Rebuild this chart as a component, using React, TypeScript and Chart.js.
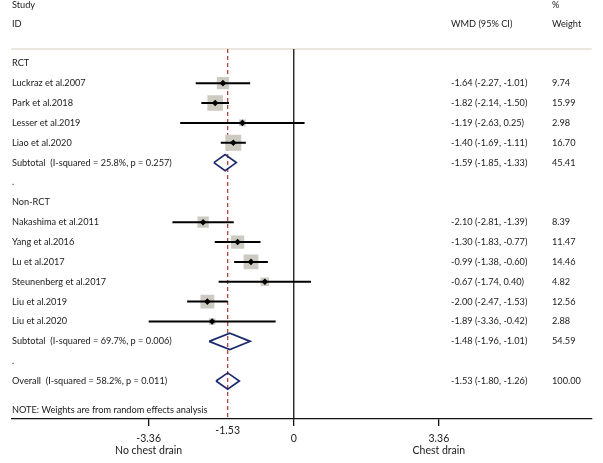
import React, { useEffect, useRef } from 'react';
import { Chart, registerables } from 'chart.js';

Chart.register(...registerables);

// ---------- data ----------
const rctStudies = ['Luckraz et al.2007', 'Park et al.2018', 'Lesser et al.2019', 'Liao et al.2020'];
const rctEst = [-1.64, -1.82, -1.19, -1.40];
const rctLow = [-2.27, -2.14, -2.63, -1.69];
const rctHigh = [-1.01, -1.50, 0.25, -1.11];
const rctWeight = [9.74, 15.99, 2.98, 16.70];
const rctSubtotal = { est: -1.59, lo: -1.85, hi: -1.33, w: 45.41, i2: 25.8, p: 0.257 };

const nonRctStudies = ['Nakashima et al.2011', 'Yang et al.2016', 'Lu et al.2017', 'Steunenberg et al.2017', 'Liu et al.2019', 'Liu et al.2020'];
const nonRctEst = [-2.10, -1.30, -0.99, -0.67, -2.00, -1.89];
const nonRctLow = [-2.81, -1.83, -1.38, -1.74, -2.47, -3.36];
const nonRctHigh = [-1.39, -0.77, -0.60, 0.40, -1.53, -0.42];
const nonRctWeight = [8.39, 11.47, 14.46, 4.82, 12.56, 2.88];
const nonRctSubtotal = { est: -1.48, lo: -1.96, hi: -1.01, w: 54.59, i2: 69.7, p: 0.006 };

const overall = { est: -1.53, lo: -1.80, hi: -1.26, w: 100.0, i2: 58.2, p: 0.011 };

const groupNames = ['RCT', 'Non-RCT'];
const xTicks = [-3.36, 0, 3.36];
const xSideLabels: Record<string, string> = { '-3.36': 'No chest drain', '3.36': 'Chest drain' };
const headerLeft = ['Study', 'ID'];
const headerCI = 'WMD (95% CI)';
const headerWeight = ['%', 'Weight'];
const noteText = 'NOTE: Weights are from random effects analysis';

// ---------- layout constants ----------
const W = 603;
const H = 463;
const FONT = 'Lato';
const TEXT_SIZE = 9.2;
const AXIS_SIZE = 10.5;
const TEXT_COLOR = '#1a1a1a';
const X_MIN = -6.541;
const X_MAX = 6.899;
const Y_MIN = -0.72;
const Y_MAX = 17.91;

type Row = {
  k: number;
  label: string;
  kind: 'group' | 'study' | 'summary' | 'blank' | 'overall';
  est?: number;
  lo?: number;
  hi?: number;
  w?: number;
};

function fmt(v: number) {
  return v.toFixed(2);
}

function buildRows(): Row[] {
  const rows: Row[] = [];
  let k = 0;
  const groups = [
    { studies: rctStudies, est: rctEst, lo: rctLow, hi: rctHigh, w: rctWeight, sub: rctSubtotal },
    { studies: nonRctStudies, est: nonRctEst, lo: nonRctLow, hi: nonRctHigh, w: nonRctWeight, sub: nonRctSubtotal },
  ];
  groups.forEach((g, gi) => {
    rows.push({ k: k++, label: groupNames[gi], kind: 'group' });
    g.studies.forEach((s, i) => {
      rows.push({ k: k++, label: s, kind: 'study', est: g.est[i], lo: g.lo[i], hi: g.hi[i], w: g.w[i] });
    });
    rows.push({
      k: k++,
      label: `Subtotal  (I-squared = ${g.sub.i2.toFixed(1)}%, p = ${g.sub.p.toFixed(3)})`,
      kind: 'summary',
      est: g.sub.est,
      lo: g.sub.lo,
      hi: g.sub.hi,
      w: g.sub.w,
    });
    rows.push({ k: k++, label: '.', kind: 'blank' });
  });
  rows.push({
    k: k++,
    label: `Overall  (I-squared = ${overall.i2.toFixed(1)}%, p = ${overall.p.toFixed(3)})`,
    kind: 'overall',
    est: overall.est,
    lo: overall.lo,
    hi: overall.hi,
    w: overall.w,
  });
  return rows;
}

export default function App() {
  const ref = useRef<HTMLCanvasElement>(null);

  useEffect(() => {
    if (!ref.current) return;
    const rows = buildRows();
    const studies = rows.filter((r) => r.kind === 'study');
    const summaries = rows.filter((r) => r.kind === 'summary' || r.kind === 'overall');
    const noteK = rows[rows.length - 1].k + 1.45;

    const datasets: any[] = [];
    // top separator
    datasets.push({
      data: [{ x: X_MIN, y: Y_MIN }, { x: X_MAX, y: Y_MIN }],
      showLine: true, borderColor: '#e3dfd3', borderWidth: 1.6, pointRadius: 0, clip: false, order: 10,
    });
    // null line
    datasets.push({
      data: [{ x: 0, y: Y_MIN }, { x: 0, y: Y_MAX }],
      showLine: true, borderColor: '#111', borderWidth: 1.3, pointRadius: 0, clip: false, order: 9,
    });
    // overall effect dashed line
    datasets.push({
      data: [{ x: overall.est, y: Y_MIN }, { x: overall.est, y: Y_MAX }],
      showLine: true, borderColor: '#b2312d', borderWidth: 1.2, borderDash: [4, 3], pointRadius: 0, clip: false, order: 8,
    });
    // weight squares
    datasets.push({
      data: studies.map((r) => ({ x: r.est, y: r.k, w: r.w })),
      showLine: false,
      pointStyle: 'rect',
      pointRadius: (c: any) => (3.9 * Math.sqrt(c.raw.w)) / Math.SQRT2,
      backgroundColor: '#cdcac2',
      borderWidth: 0,
      order: 7,
    });
    // CI lines
    studies.forEach((r) => {
      datasets.push({
        data: [{ x: r.lo, y: r.k }, { x: r.hi, y: r.k }],
        showLine: true, borderColor: '#000', borderWidth: 2, pointRadius: 0, order: 6,
      });
    });
    // point estimates
    datasets.push({
      data: studies.map((r) => ({ x: r.est, y: r.k })),
      showLine: false, pointStyle: 'rectRot', pointRadius: 3.3, backgroundColor: '#000', borderWidth: 0, order: 5,
    });
    // summary diamonds
    summaries.forEach((r) => {
      const h = 0.41;
      datasets.push({
        data: [
          { x: r.lo, y: r.k },
          { x: r.est, y: r.k - h },
          { x: r.hi, y: r.k },
          { x: r.est, y: r.k + h },
          { x: r.lo, y: r.k },
        ],
        showLine: true, borderColor: '#1d2b6e', borderWidth: 1.7, pointRadius: 0, borderJoinStyle: 'miter', tension: 0, order: 4,
      });
    });

    const textPlugin = {
      id: 'forestText',
      afterDatasetsDraw(chart: any) {
        const ctx = chart.ctx as CanvasRenderingContext2D;
        const y = chart.scales.y;
        const x = chart.scales.x;
        ctx.save();
        ctx.fillStyle = TEXT_COLOR;
        ctx.textBaseline = 'middle';
        ctx.font = `${TEXT_SIZE}px ${FONT}`;
        ctx.textAlign = 'left';
        const py = (k: number) => y.getPixelForValue(k);
        // header
        ctx.fillText(headerLeft[0], 12, py(-2.95));
        ctx.fillText(headerLeft[1], 12, py(-1.97));
        ctx.fillText(headerWeight[0], 552, py(-2.95));
        ctx.fillText(headerWeight[1], 552, py(-1.97));
        ctx.fillText(headerCI, 451, py(-1.97));
        rows.forEach((r) => {
          ctx.fillText(r.label, 12, py(r.k));
          if (r.est !== undefined) {
            ctx.fillText(`${fmt(r.est)} (${fmt(r.lo!)}, ${fmt(r.hi!)})`, 451, py(r.k));
            ctx.fillText(fmt(r.w!), 552, py(r.k));
          }
        });
        ctx.fillText(noteText, 12, py(noteK));
        // overall estimate label on axis
        ctx.font = `${AXIS_SIZE}px ${FONT}`;
        ctx.textAlign = 'center';
        ctx.fillText(fmt(overall.est), x.getPixelForValue(overall.est), x.top + 12);
        ctx.restore();
      },
    };

    const chart = new Chart(ref.current, {
      type: 'scatter',
      data: { datasets },
      options: {
        animation: false,
        responsive: false,
        events: [],
        layout: { padding: { left: 3, right: 0, top: 49, bottom: 0 } },
        plugins: { legend: { display: false }, tooltip: { enabled: false } },
        scales: {
          x: {
            type: 'linear',
            min: X_MIN,
            max: X_MAX,
            afterBuildTicks: (s: any) => {
              s.ticks = xTicks.map((v) => ({ value: v }));
            },
            afterFit: (s: any) => {
              s.height = 44;
            },
            ticks: {
              autoSkip: false,
              maxRotation: 0,
              padding: 6,
              color: TEXT_COLOR,
              font: { family: FONT, size: AXIS_SIZE, lineHeight: 1.2 },
              callback: (v: any) => {
                const key = Number(v).toFixed(2);
                const lbl = Number(v) === 0 ? '0' : key;
                return xSideLabels[key] ? [lbl, xSideLabels[key]] : lbl;
              },
            },
            grid: { display: true, drawOnChartArea: false, drawTicks: true, tickLength: 7, color: '#111', lineWidth: 1.3 },
            border: { display: true, color: '#111', width: 1.3 },
          },
          y: { type: 'linear', reverse: true, min: Y_MIN, max: Y_MAX, display: false },
        },
      },
      plugins: [textPlugin],
    });
    return () => chart.destroy();
  }, []);

  return (
    <div style={{ position: 'fixed', left: 0, top: 0, width: W, height: H, background: '#fff' }}>
      <canvas ref={ref} width={W} height={H} style={{ display: 'block' }} />
    </div>
  );
}
